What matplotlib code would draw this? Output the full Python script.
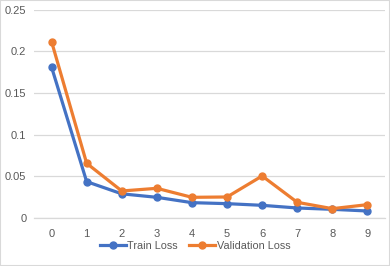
import matplotlib.pyplot as plt
from matplotlib.patches import Rectangle

epochs = [0, 1, 2, 3, 4, 5, 6, 7, 8, 9]
train_loss = [0.181, 0.0436, 0.029, 0.0248, 0.0184, 0.0172, 0.0152, 0.012, 0.0104, 0.0084]
val_loss = [0.2116, 0.0656, 0.0324, 0.0356, 0.0248, 0.0252, 0.0504, 0.0188, 0.0112, 0.016]
y_ticks = [0, 0.05, 0.1, 0.15, 0.2, 0.25]
y_labels = ['0', '0.05', '0.1', '0.15', '0.2', '0.25']

plt.rcParams['font.family'] = ['Liberation Sans', 'DejaVu Sans']

fig = plt.figure(figsize=(3.9, 2.66), dpi=100)
# plot area in pixels: x 34..385, y 9.5..218 (from top)
ax = fig.add_axes([34 / 390, (266 - 218) / 266, 351 / 390, (218 - 9.5) / 266])

ax.plot(epochs, train_loss, color='#4472C4', lw=2.3, marker='o', ms=5,
        label='Train Loss', zorder=3)
ax.plot(epochs, val_loss, color='#ED7D31', lw=2.3, marker='o', ms=5,
        label='Validation Loss', zorder=3)

ax.set_xlim(-0.5, 9.5)
ax.set_ylim(0, 0.25)
ax.set_xticks(epochs)
ax.set_yticks(y_ticks)
ax.set_yticklabels(y_labels)
ax.grid(axis='y', color='#D9D9D9', lw=0.9)
ax.set_axisbelow(True)
for side in ['top', 'right', 'left']:
    ax.spines[side].set_visible(False)
ax.spines['bottom'].set_color('#D9D9D9')
ax.spines['bottom'].set_linewidth(0.9)
ax.tick_params(length=0, colors='#595959', labelsize=8)
ax.tick_params(axis='x', pad=8)
ax.tick_params(axis='y', pad=5.5)

fig.legend(loc='center', bbox_to_anchor=(0.5, 1 - 246 / 266), ncol=2,
           frameon=False, fontsize=7.8, labelcolor='#595959',
           handlelength=2.4, handletextpad=0.1, columnspacing=1.1)

fig.patches.append(Rectangle((0, 0), 1, 1, transform=fig.transFigure,
                             fill=False, edgecolor='#D9D9D9', lw=1.5))

fig.savefig('out.png', dpi=100, facecolor='white')
